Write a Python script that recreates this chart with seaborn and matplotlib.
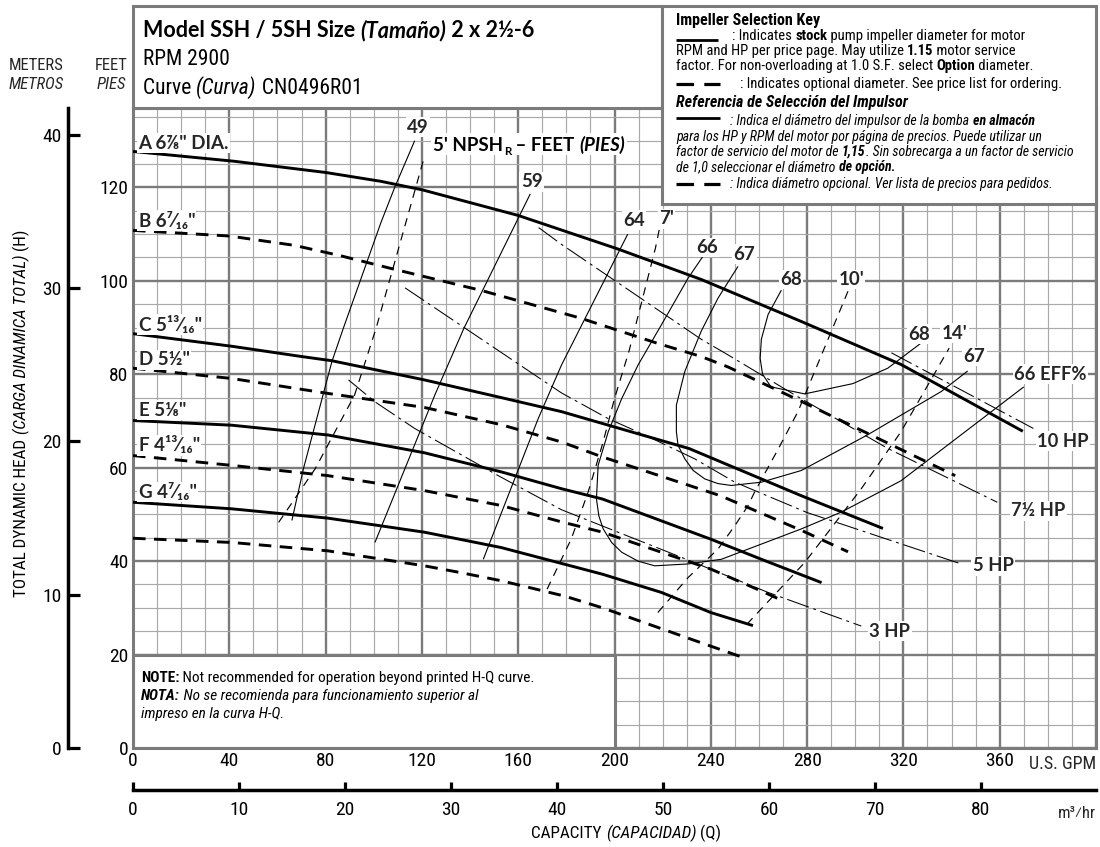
import os
import numpy as np
import pandas as pd
import matplotlib
matplotlib.use("Agg")
import matplotlib.pyplot as plt
import seaborn as sns
from matplotlib.patches import Rectangle
from matplotlib.lines import Line2D
from matplotlib import font_manager as fm
from matplotlib import ft2font

# ------------------------------------------------------------------ data
# Head-capacity curves (capacity in US GPM, head in feet)
a_q = [0, 42, 80, 103, 120, 160, 201.5, 236, 277.6, 319, 369.6]
a_h = [127.7, 125.6, 123.2, 121.3, 119.5, 114.0, 106.8, 100.3, 91.3, 82.1, 67.8]
b_q = [0, 40, 67, 86, 106, 145, 186, 218, 236, 247, 277.6, 341.5]
b_h = [110.8, 109.6, 107.6, 105.4, 102.8, 97.9, 92.0, 86.6, 83.8, 81.6, 74.2, 58.3]
c_q = [0, 41, 70, 82.6, 121, 153, 178, 231, 277.6, 311.5]
c_h = [88.7, 86.0, 83.8, 82.9, 78.8, 75.0, 72.0, 64.1, 54.0, 47.0]
d_q = [0, 41, 81, 121, 153, 178, 195, 244, 278, 297]
d_h = [81.3, 79.1, 75.9, 72.9, 69.2, 65.5, 62.3, 54.0, 46.5, 42.0]
e_q = [0, 41, 81, 121, 153, 178, 195, 240, 261, 286]
e_h = [70.1, 69.1, 67.0, 63.2, 59.1, 55.5, 53.3, 44.7, 40.4, 35.4]
f_q = [0, 41, 81, 121, 153, 178, 195, 240, 261, 270]
f_h = [62.6, 60.5, 58.3, 55.1, 51.9, 48.4, 46.2, 38.3, 33.6, 31.5]
g_q = [0, 41, 81, 121, 153, 195, 219.5, 240, 257.5]
g_h = [52.6, 51.2, 49.2, 46.2, 42.9, 37.2, 33.3, 29.0, 26.2]
h_q = [0, 41, 81, 121, 136.5, 153, 179.4, 195, 240, 252.7]
h_h = [44.9, 44.0, 42.2, 39.0, 37.5, 35.8, 32.5, 30.0, 21.8, 19.5]

impeller_labels = ['A 6⅞" DIA.', 'B 6⁷⁄₁₆"', 'C 5¹³⁄₁₆"', 'D 5½"', 'E 5⅛"', 'F 4¹³⁄₁₆"', 'G 4⁷⁄₁₆"']
impeller_label_h = [129.5, 112.9, 90.6, 83.1, 72.3, 64.8, 54.8]

# Efficiency contours (%)
eff49_q = [66, 70.8, 82.6, 87.4, 103, 108.7, 117]
eff49_h = [48.7, 59.8, 82.7, 89.9, 112.5, 120.0, 130.0]
eff59_q = [100.5, 125.4, 137.5, 165]
eff59_h = [44.0, 75.6, 89.9, 118.6]
eff64_q = [145.5, 168.3, 178, 205.5]
eff64_h = [40.4, 70.5, 82.0, 110.0]
eff66_q = [236.8, 230.6, 219.5, 209.8, 203, 197.4, 193.2, 192.5, 193.5, 195.3, 198.8, 203, 209.8,
           216.7, 230.6, 244.4, 277.6, 294.2, 319, 336, 370]
eff66_h = [105.3, 100.6, 90.6, 82.0, 74.8, 67.7, 60.5, 53.3, 49.7, 46.9, 44.0, 41.9, 40.0,
           39.0, 39.4, 40.4, 46.9, 50.5, 57.2, 63.9, 77.3]
eff67_q = [251.3, 243, 236, 229.2, 225.7, 225.7, 226.4, 229.2, 232.7, 237.5, 243, 248.5, 261,
           277.6, 305, 335.7, 346.7]
eff67_h = [103.1, 96.3, 89.2, 80.6, 73.4, 67.7, 64.8, 61.9, 59.4, 57.6, 56.6, 56.2, 56.9,
           59.4, 67.0, 76.3, 80.7]
eff68_q = [269.3, 263.8, 261, 260.5, 261.5, 265, 279, 299, 313.5, 327.4]
eff68_h = [98.0, 92.8, 87.5, 83.4, 80.0, 77.3, 75.8, 78.0, 81.3, 86.7]

# NPSH required contours (feet)
npsh5_q = [60.5, 75.7, 92, 101, 121]
npsh5_h = [48.3, 59.8, 75.5, 89.9, 126.5]
npsh7_q = [172, 182, 189, 195, 200, 206, 211, 217, 219]
npsh7_h = [34.0, 44.7, 54.7, 65.0, 74.8, 84.9, 94.9, 107.0, 112.0]
npsh10_q = [218, 230.6, 243, 250, 255.5, 258.2, 268, 276.2, 297]
npsh10_h = [29.0, 36.5, 42.6, 47.6, 51.9, 54.8, 64.0, 72.0, 97.8]
npsh14_q = [255, 279, 288.7, 302.5, 319, 339]
npsh14_h = [26.5, 39.7, 46.2, 55.5, 67.7, 85.6]

# Motor power limit lines
hp10_q = [315, 374]
hp10_h = [84.6, 68.4]
hp75_q = [168.5, 178, 236, 247, 274.8, 313.6, 359]
hp75_h = [111.4, 107.8, 87.5, 84.2, 75.6, 64.1, 52.6]
hp5_q = [113, 178, 197.4, 212.6, 233.3, 250, 280, 344]
hp5_h = [98.5, 76.0, 70.5, 67.0, 61.9, 56.9, 50.4, 39.4]
hp3_q = [89.5, 100.5, 117, 151.7, 178, 194.6, 226.4, 263.8, 302.5]
hp3_h = [78.8, 74.1, 68.4, 58.3, 51.0, 47.6, 41.1, 33.3, 26.1]

# Centered curve labels: (text, gpm, feet)
center_labels = [("49", 118.3, 132.9), ("59", 165.6, 121.2), ("64", 208, 113.0), ("7'", 221.5, 113.3),
                 ("66", 238.5, 107.1), ("67", 254, 105.7), ("68", 273.4, 100.3), ("10'", 298.3, 100.3),
                 ("68", 326.7, 88.6), ("14'", 341.2, 88.8), ("67", 349.5, 83.8)]
# Left-aligned labels: (text, gpm, feet)
left_labels = [("66 EFF%", 366, 80.0), ("10 HP", 375.5, 65.7), ("7½ HP", 364.7, 50.8),
               ("5 HP", 348.8, 39.0), ("3 HP", 305.9, 25.0)]

gpm_ticks = list(range(0, 401, 40))
gpm_ticklabels = [str(v) for v in range(0, 361, 40)] + [""]
feet_ticks = list(range(0, 121, 20))
meter_ticks = [0, 10, 20, 30, 40]
m3h_ticks = [0, 10, 20, 30, 40, 50, 60, 70, 80]

# ------------------------------------------------------------------ fonts
def font_file(name, **kw):
    try:
        return fm.findfont(fm.FontProperties(family=name, **kw), fallback_to_default=False)
    except ValueError:
        return None


COND = next((f for f in ["Liberation Sans Narrow", "Roboto Condensed", "Open Sans Condensed"]
             if font_file(f)), "Liberation Sans")


def has_static_bold(name):
    path = font_file(name, weight="bold")
    return bool(path) and "bold" in os.path.basename(path).lower()


BOLD = next((f for f in ["Lato", "Open Sans", "Noto Sans", "Roboto", "Liberation Sans"]
             if has_static_bold(f)), "DejaVu Sans")

sns.set_theme(style="white")
plt.rcParams["font.family"] = [COND, "DejaVu Sans"]
plt.rcParams["axes.unicode_minus"] = False

W, H, DPI = 1100, 847, 100
L, R, T, B = 133, 1096, 108, 748
QMAX, HMAX = 400, 137
GRAY = "#7b7b7b"
LGRAY = "#a9a9a9"

fig = plt.figure(figsize=(W / DPI, H / DPI), dpi=DPI)
fig.patch.set_facecolor("white")
ax = fig.add_axes([L / W, 1 - B / H, (R - L) / W, (B - T) / H])

_LOAD = ft2font.LoadFlags.NO_HINTING if hasattr(ft2font, "LoadFlags") else ft2font.LOAD_NO_HINTING


def advance(s, family, weight, style, size):
    """Pen advance of a string in pixels."""
    prop = fm.FontProperties(family=family, weight=weight, style=style, size=size)
    font = fm.get_font(fm.findfont(prop))
    font.set_size(size, DPI)
    total = 0.0
    for ch in s:
        f = font
        if font.get_char_index(ord(ch)) == 0:
            f = fm.get_font(fm.findfont(fm.FontProperties(family="DejaVu Sans", weight=weight,
                                                           style=style, size=size)))
            f.set_size(size, DPI)
        g = f.load_char(ord(ch), flags=_LOAD)
        total += g.linearHoriAdvance / 65536.0
        if f is not font:
            font.set_size(size, DPI)
    return total


def run_width(parts, size, family):
    w = 0.0
    for p in parts:
        scale = p[3] if len(p) > 3 else 1.0
        w += advance(p[0], family, p[1], p[2], size * scale)
    return w


def rich(x, y, parts, size, family=None, rotation=0, zorder=8, color="black"):
    """Consecutive text runs; (x, y) is the pen start on the baseline in pixels from the top-left."""
    family = family or COND
    pos = 0.0
    for p in parts:
        s, weight, style = p[0], p[1], p[2]
        scale = p[3] if len(p) > 3 else 1.0
        shift = p[4] if len(p) > 4 else 0.0
        fs = size * scale
        if rotation == 0:
            px, py = x + pos, y + shift
        else:
            px, py = x + shift, y - pos
        fig.text(px / W, 1 - py / H, s, fontsize=fs, family=[family, "DejaVu Sans"], weight=weight,
                 style=style, ha="left", va="baseline", rotation=rotation, rotation_mode="anchor",
                 color=color, zorder=zorder)
        pos += advance(s, family, weight, style, fs)
    return pos


def to_px(q, h):
    return L + q * (R - L) / QMAX, B - h * (B - T) / HMAX


def frame(x0, y0, x1, y1, lw=2.2, z=2):
    fig.add_artist(Rectangle((x0 / W, 1 - y1 / H), (x1 - x0) / W, (y1 - y0) / H,
                             transform=fig.transFigure, facecolor="white", edgecolor=GRAY,
                             lw=lw, zorder=z))


def fig_line(x0, x1, y, dashes=None, lw=2.0):
    ln = Line2D([x0 / W, x1 / W], [1 - y / H, 1 - y / H], transform=fig.transFigure,
                color="black", lw=lw, zorder=8, solid_capstyle="butt", dash_capstyle="butt")
    if dashes:
        ln.set_dashes(dashes)
    fig.add_artist(ln)


# ------------------------------------------------------------------ curves
def draw(q, h, lw, dashes=None, z=3):
    df = pd.DataFrame({"gpm": q, "feet": h})
    sns.lineplot(data=df, x="gpm", y="feet", sort=False, estimator=None, color="black",
                 lw=lw, ax=ax, zorder=z, legend=False)
    line = ax.lines[-1]
    line.set_solid_capstyle("butt")
    line.set_dash_capstyle("butt")
    line.set_solid_joinstyle("round")
    if dashes:
        line.set_dashes(dashes)


THICK = 2.1
IMP_DASH = [4.3, 2.9]
for q, h, dashed in [(a_q, a_h, False), (b_q, b_h, True), (c_q, c_h, False), (d_q, d_h, True),
                     (e_q, e_h, False), (f_q, f_h, True), (g_q, g_h, False), (h_q, h_h, True)]:
    draw(q, h, THICK, IMP_DASH if dashed else None, z=4)

for q, h in [(eff49_q, eff49_h), (eff59_q, eff59_h), (eff64_q, eff64_h), (eff66_q, eff66_h),
             (eff67_q, eff67_h), (eff68_q, eff68_h)]:
    draw(q, h, 0.8, None, z=3)

for q, h in [(npsh5_q, npsh5_h), (npsh7_q, npsh7_h), (npsh10_q, npsh10_h), (npsh14_q, npsh14_h)]:
    draw(q, h, 0.85, [7.0, 5.5], z=3)

for q, h in [(hp10_q, hp10_h), (hp75_q, hp75_h), (hp5_q, hp5_h), (hp3_q, hp3_h)]:
    draw(q, h, 0.75, [22, 4.5, 2.8, 4.5], z=3)

ax.set_xlabel("")
ax.set_ylabel("")

# ------------------------------------------------------------------ axes & grid
ax.set_xlim(0, QMAX)
ax.set_ylim(0, HMAX)
ax.set_xticks(gpm_ticks)
ax.set_xticklabels(gpm_ticklabels)
ax.set_xticks(np.arange(0, QMAX + 1, 10), minor=True)
ax.set_yticks(feet_ticks)
ax.set_yticks(np.arange(0, HMAX, 5), minor=True)
ax.set_axisbelow(True)
ax.grid(which="major", color=GRAY, lw=1.7)
ax.grid(which="minor", color=LGRAY, lw=0.85)
ax.tick_params(which="both", length=0, labelsize=14, colors="black")
ax.tick_params(axis="x", pad=3)
ax.tick_params(axis="y", pad=3.5)
for s in ax.spines.values():
    s.set_color(GRAY)
    s.set_linewidth(2.2)

# note area without grid
ax.add_patch(Rectangle((0, 0), 200, 20, facecolor="white", edgecolor=GRAY, lw=2.2, zorder=1.5))

# meters scale on the far left
sec_y = ax.secondary_yaxis((68 - L) / (R - L), functions=(lambda f: np.asarray(f) * 0.3048,
                                                           lambda m: np.asarray(m) / 0.3048))
sec_y.set_yticks(meter_ticks)
sec_y.tick_params(direction="in", length=8.5, width=2.3, labelsize=14, pad=4.5, colors="black")
for s in sec_y.spines.values():
    s.set_color("black")
    s.set_linewidth(2.5)

# cubic meters per hour scale below
sec_x = ax.secondary_xaxis(-(790 - B) / (B - T), functions=(lambda g: np.asarray(g) / 4.402868,
                                                             lambda m: np.asarray(m) * 4.402868))
sec_x.set_xticks(m3h_ticks)
sec_x.tick_params(direction="in", length=5.5, width=2.3, labelsize=14, pad=8, colors="black")
for s in sec_x.spines.values():
    s.set_color("black")
    s.set_linewidth(2.5)

# ------------------------------------------------------------------ curve labels
LBL = 13.5
for text, hh in zip(impeller_labels, impeller_label_h):
    ax.text(2.3, hh, text, ha="left", va="center", fontsize=LBL, weight="bold",
            family=[BOLD, "DejaVu Sans"], zorder=10,
            bbox=dict(facecolor="white", edgecolor="none", pad=1.0))
for text, qq, hh in center_labels:
    ax.text(qq, hh, text, ha="center", va="center", fontsize=LBL, weight="bold",
            family=[BOLD, "DejaVu Sans"], zorder=10,
            bbox=dict(facecolor="white", edgecolor="none", pad=1.0))
for text, qq, hh in left_labels:
    ax.text(qq, hh, text, ha="left", va="center", fontsize=13.2, weight="bold",
            family=[BOLD, "DejaVu Sans"], zorder=10,
            bbox=dict(facecolor="white", edgecolor="none", pad=1.0))

# NPSH title with subscript
npsh_parts = [("5' NPSH", "bold", "normal"), ("R", "bold", "normal", 0.62, 4.5),
              (" – FEET ", "bold", "normal"), ("(PIES)", "bold", "italic")]
nx, ny = to_px(124.8, 129.3)
nw = run_width(npsh_parts, LBL, BOLD)
fig.add_artist(Rectangle(((nx - 2) / W, 1 - (ny + 11) / H), (nw + 4) / W, 22 / H,
                         transform=fig.transFigure, facecolor="white", edgecolor="none", zorder=7))
rich(nx, ny + 6.8, npsh_parts, LBL, BOLD)

# ------------------------------------------------------------------ header boxes
frame(L, 6, 662, T)
frame(662, 6, R, 204)

rich(143, 37, [("Model SSH / 5SH Size ", "bold", "normal"), ("(Tamaño)", "bold", "italic"),
               (" 2 x 2½-6", "bold", "normal")], 15.5, BOLD)
rich(143, 65, [("RPM 2900", "normal", "normal")], 15.5)
rich(143, 94, [("Curve ", "normal", "normal"), ("(Curva)", "normal", "italic"),
               (" CN0496R01", "normal", "normal")], 15.5)

K, KS = 10.5, 10.0
KX = 676
N, I, BD = "normal", "italic", "bold"
rich(KX, 25, [("Impeller Selection Key", BD, N)], 11.5)
fig_line(KX, KX + 42, 40)
rich(732, 40, [(": Indicates ", N, N), ("stock", BD, N), (" pump impeller diameter for motor", N, N)], K)
rich(KX, 55, [("RPM and HP per price page. May utilize ", N, N), ("1.15", BD, N),
              (" motor service", N, N)], K)
rich(KX, 70, [("factor. For non-overloading at 1.0 S.F. select ", N, N), ("Option", BD, N),
              (" diameter.", N, N)], K)
fig_line(KX, KX + 44, 84, dashes=[5.5, 3.2], lw=2.3)
rich(740, 88, [(": Indicates optional diameter. See price list for ordering.", N, N)], K)
rich(KX, 107, [("Referencia de Selección del Impulsor", BD, I)], 11.5)
fig_line(KX, KX + 44, 118)
rich(730, 125, [(": Indica el diámetro del impulsor de la bomba ", N, I), ("en almacón", BD, I)], KS)
rich(KX, 141, [("para los HP y RPM del motor por página de precios. Puede utilizar un", N, I)], KS)
rich(KX, 156, [("factor de servicio del motor de ", N, I), ("1,15", BD, I),
               (". Sin sobrecarga a un factor de servicio", N, I)], KS)
rich(KX, 171, [("de 1,0 seleccionar el diámetro ", N, I), ("de opción.", BD, I)], KS)
fig_line(KX, KX + 44, 184, dashes=[5.5, 3.2], lw=2.3)
rich(730, 188, [(": Indica diámetro opcional. Ver lista de precios para pedidos.", N, I)], KS)

# note inside the grid-free area
rich(141, 682, [("NOTE:", BD, N), (" Not recommended for operation beyond printed H-Q curve.", N, N)], 11)
rich(141, 700, [("NOTA:", BD, I), (" No se recomienda para funcionamiento superior al", N, I)], 11)
rich(141, 718, [("impreso en la curva H-Q.", N, I)], 11)

# ------------------------------------------------------------------ axis titles
for text, xc, yb, st in [("METERS", 36, 70, N), ("METROS", 36, 89, I), ("FEET", 111, 70, N),
                         ("PIES", 111, 89, I)]:
    fig.text(xc / W, 1 - yb / H, text, fontsize=12, style=st, ha="center", va="baseline",
             family=[COND, "DejaVu Sans"])

fig.text(R / W, 1 - 769 / H, "U.S. GPM", fontsize=13, ha="right", va="baseline",
         family=[COND, "DejaVu Sans"])
fig.text(R / W, 1 - 818 / H, "m³⁄hr", fontsize=12, ha="right", va="baseline",
         family=[COND, "DejaVu Sans"])

cap_parts = [("CAPACITY ", N, N), ("(CAPACIDAD)", N, I), (" (Q)", N, N)]
cw = run_width(cap_parts, 12.3, COND)
rich(626 - cw / 2, 838, cap_parts, 12.3)

yl_parts = [("TOTAL DYNAMIC HEAD ", N, N), ("(CARGA DINAMICA TOTAL)", N, I), (" (H)", N, N)]
yw = run_width(yl_parts, 12.3, COND)
rich(26, 413 + yw / 2, yl_parts, 12.3, rotation=90)

fig.savefig("out.png", dpi=DPI)
